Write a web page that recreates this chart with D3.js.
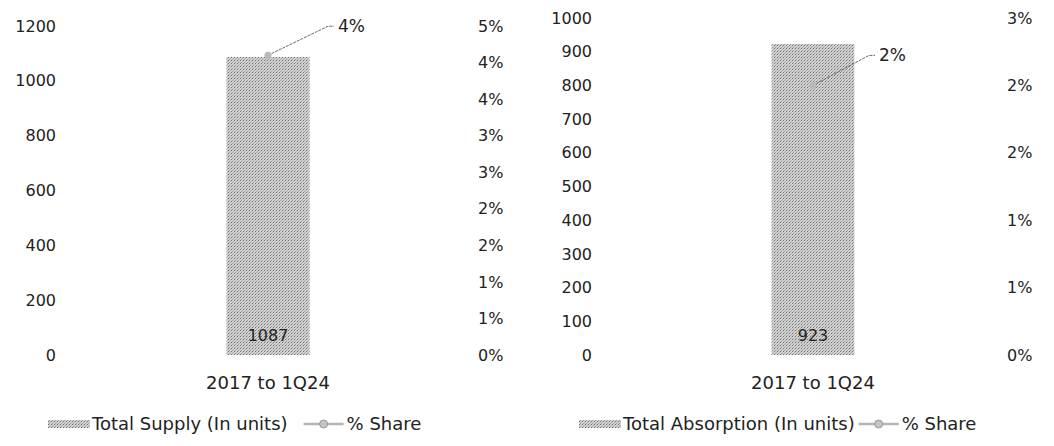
<html>
<head>
  <meta charset="utf-8" />
  <script src="https://cdnjs.cloudflare.com/ajax/libs/d3/7.8.5/d3.min.js"></script>
  <style>
    body { margin: 0; background: #fff; }
    text { font-family: "DejaVu Sans", sans-serif; fill: #222; }
  </style>
</head>
<body>
  <svg id="chart" width="1054" height="446"></svg>
  <script>
    // data
    var categories = ["2017 to 1Q24"]
    var supplyUnits = [1087]
    var supplyShare = [4.1]          // percent
    var absorptionUnits = [923]
    var absorptionShare = [2.0]      // percent

    var supplyTicks = [0, 200, 400, 600, 800, 1000, 1200]
    var supplyPctTicks = [0, 0.5, 1, 1.5, 2, 2.5, 3, 3.5, 4, 4.5]
    var absorptionTicks = [0, 100, 200, 300, 400, 500, 600, 700, 800, 900, 1000]
    var absorptionPctTicks = [0, 0.5, 1, 1.5, 2, 2.5]

    var svg = d3.select("#chart")

    // gray stipple fill like the original bars
    var defs = svg.append("defs")
    var pat = defs.append("pattern")
      .attr("id", "stipple")
      .attr("width", 3).attr("height", 3)
      .attr("patternUnits", "userSpaceOnUse")
    pat.append("rect").attr("width", 3).attr("height", 3).attr("fill", "#d2d2d2")
    pat.append("rect").attr("x", 0).attr("y", 0).attr("width", 1).attr("height", 1).attr("fill", "#6e6e6e")
    pat.append("rect").attr("x", 1).attr("y", 2).attr("width", 1).attr("height", 1).attr("fill", "#9c9c9c")
    pat.append("rect").attr("x", 2).attr("y", 1).attr("width", 1).attr("height", 1).attr("fill", "#b0b0b0")

    var pctFmt = v => Math.round(v) + "%"

    function drawPanel(o) {
      var g = svg.append("g")

      var x = d3.scaleBand().domain(categories).range([o.x0, o.x1]).paddingInner(0).paddingOuter(o.pad)
      var y = d3.scaleLinear().domain([0, d3.max(o.ticks)]).range([o.bottom, o.top])
      var yp = d3.scaleLinear().domain([0, d3.max(o.pctTicks)]).range([o.bottom, o.top])

      g.append("g")
        .attr("transform", `translate(${o.leftAxisX},0)`)
        .call(d3.axisLeft(y).tickValues(o.ticks).tickFormat(d3.format("d")).tickSize(0).tickPadding(0))
      g.append("g")
        .attr("transform", `translate(${o.rightAxisX},0)`)
        .call(d3.axisRight(yp).tickValues(o.pctTicks).tickFormat(pctFmt).tickSize(0).tickPadding(0))
      g.selectAll(".domain").remove()
      g.selectAll(".tick text").style("font-size", "16px").style("font-family", "DejaVu Sans").attr("fill", "#222")

      // bars
      g.selectAll(".bar")
        .data(o.units)
        .enter()
        .append("rect")
          .attr("class", "bar")
          .attr("x", (d, i) => x(categories[i]))
          .attr("width", x.bandwidth())
          .attr("y", d => y(d))
          .attr("height", d => y(0) - y(d))
          .attr("fill", "url(#stipple)")

      // value labels inside bars
      g.selectAll(".val")
        .data(o.units)
        .enter()
        .append("text")
          .attr("x", (d, i) => x(categories[i]) + x.bandwidth() / 2)
          .attr("y", y(0) - 20)
          .attr("text-anchor", "middle")
          .attr("dy", "0.35em")
          .style("font-size", "16px")
          .text(d => d)

      // category labels
      g.selectAll(".cat")
        .data(categories)
        .enter()
        .append("text")
          .attr("x", d => x(d) + x.bandwidth() / 2)
          .attr("y", o.bottom + 28)
          .attr("text-anchor", "middle")
          .attr("dy", "0.35em")
          .style("font-size", "18px")
          .text(d => d)

      // share point, leader line and label
      o.share.forEach(function (s, i) {
        var px = x(categories[i]) + x.bandwidth() / 2
        var py = yp(s)
        g.append("path")
          .attr("d", d3.line()([[px, py], [px + o.lead[0], py - o.lead[1]], [px + o.lead[0] + 6, py - o.lead[1]]]))
          .attr("fill", "none")
          .attr("stroke", "#666")
          .attr("stroke-width", 1)
          .attr("stroke-dasharray", "3,1")
        g.append("circle")
          .attr("cx", px).attr("cy", py).attr("r", 3.5)
          .attr("fill", "#b8b8b8")
        g.append("text")
          .attr("x", px + o.lead[0] + 10)
          .attr("y", py - o.lead[1])
          .attr("dy", "0.35em")
          .style("font-size", "17px")
          .text(pctFmt(s))
      })

      // legend
      var lg = g.append("g").attr("transform", `translate(${o.legendX},${o.legendY})`)
      lg.append("rect").attr("x", 0).attr("y", -4).attr("width", 42).attr("height", 8).attr("fill", "url(#stipple)")
      var t1 = lg.append("text").attr("x", 44).attr("dy", "0.35em")
        .style("font-size", "18px").text(o.legendLabel)
      var lx = 44 + t1.node().getComputedTextLength() + o.legendGap
      lg.append("line").attr("x1", lx).attr("x2", lx + 40).attr("y1", 0).attr("y2", 0)
        .attr("stroke", "#b5b5b5").attr("stroke-width", 2.5)
      lg.append("circle").attr("cx", lx + 20).attr("cy", 0).attr("r", 4)
        .attr("fill", "#c4c4c4").attr("stroke", "#999")
      lg.append("text").attr("x", lx + 43).attr("dy", "0.35em")
        .style("font-size", "18px").text("% Share")
    }

    drawPanel({
      units: supplyUnits, share: supplyShare,
      ticks: supplyTicks, pctTicks: supplyPctTicks,
      x0: 60, x1: 476, pad: 2.0,
      top: 26, bottom: 355,
      leftAxisX: 56, rightAxisX: 478,
      lead: [60, 29],
      legendX: 48, legendY: 424, legendLabel: "Total Supply (In units)", legendGap: 16
    })

    drawPanel({
      units: absorptionUnits, share: absorptionShare,
      ticks: absorptionTicks, pctTicks: absorptionPctTicks,
      x0: 606, x1: 1020, pad: 2.0,
      top: 18, bottom: 355,
      leftAxisX: 592, rightAxisX: 1007,
      lead: [56, 30],
      legendX: 579, legendY: 424, legendLabel: "Total Absorption (In units)", legendGap: 4
    })
  </script>
</body>
</html>
